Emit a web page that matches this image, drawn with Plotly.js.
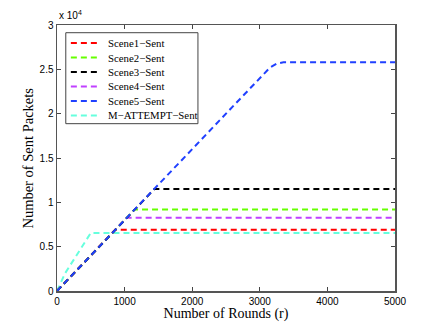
<!DOCTYPE html>
<html>
<head>
<meta charset="utf-8">
<script src="https://cdn.plot.ly/plotly-3.0.1.min.js"></script>
<style>
  html, body { margin: 0; padding: 0; background: #fff; }
  #graph { width: 436px; height: 327px; }
</style>
</head>
<body>
<div id="graph"></div>
<script>
// values (rounds, sent packets)
var names = ["Scene1-Sent", "Scene2-Sent", "Scene3-Sent", "Scene4-Sent", "Scene5-Sent", "M-ATTEMPT-Sent"];
var colors = ["#ff0000", "#66ff00", "#000000", "#c040ff", "#2040ff", "#66ffdd"];

var scene1X = [0, 860, 5000];
var scene1Y = [0, 6900, 6900];
var scene2X = [0, 1150, 5000];
var scene2Y = [0, 9200, 9200];
var scene3X = [0, 1440, 5000];
var scene3Y = [0, 11500, 11500];
var scene4X = [0, 1030, 5000];
var scene4Y = [0, 8250, 8250];
var scene5X = [0, 3150, 3250, 3350, 5000];
var scene5Y = [0, 25200, 25650, 25800, 25800];
var attemptX = [0, 120, 500, 5000];
var attemptY = [0, 2000, 6550, 6550];

var yTickVals = [0, 5000, 10000, 15000, 20000, 25000, 30000];
var yTickText = ["0", "0.5", "1", "1.5", "2", "2.5", "3"];
var xTickVals = [0, 1000, 2000, 3000, 4000, 5000];

var xs = [scene1X, scene2X, scene3X, scene4X, scene5X, attemptX];
var ys = [scene1Y, scene2Y, scene3Y, scene4Y, scene5Y, attemptY];
var dash = "6px,4px";
var serif = "Liberation Serif, Times New Roman, serif";
var sans = "Liberation Sans, Arial, sans-serif";

// draw order: attempt first so the scenes sit on top, blue above black
var order = [5, 0, 3, 1, 2, 4];
var traces = [];
order.forEach(function (i) {
    traces.push({
        x: xs[i],
        y: ys[i],
        type: "scatter",
        mode: "lines",
        name: names[i],
        line: { color: colors[i], width: 2, dash: dash },
        showlegend: false
    });
});

// legend box drawn by hand (plotly's own rows are too tall)
var shapes = [];
var annotations = [];
var leg = { x0: 0.026, x1: 0.417, y0: 0.629, y1: 0.971, top: 0.932, step: 0.0544 };
shapes.push({
    type: "rect", xref: "paper", yref: "paper",
    x0: leg.x0, x1: leg.x1, y0: leg.y0, y1: leg.y1,
    line: { color: "#444", width: 1 }, fillcolor: "#fff", layer: "above"
});
names.forEach(function (n, i) {
    var yy = leg.top - i * leg.step;
    shapes.push({
        type: "line", xref: "paper", yref: "paper",
        x0: 0.041, x1: 0.128, y0: yy, y1: yy, layer: "above",
        line: { color: colors[i], width: 2, dash: dash }
    });
    annotations.push({
        xref: "paper", yref: "paper", x: 0.145, y: yy,
        xanchor: "left", yanchor: "middle", showarrow: false,
        text: n.replace(/-/g, "\u2212"),
        font: { family: serif, size: 10.8, color: "#000" }
    });
});
annotations.push({
    xref: "paper", yref: "paper", x: 0, y: 1, xanchor: "left", yanchor: "bottom",
    yshift: 2, showarrow: false,
    text: "x 10<sup>4</sup>",
    font: { family: sans, size: 10, color: "#000" }
});
// y axis title placed as in the reference
annotations.push({
    xref: "paper", yref: "paper", x: -0.087, y: 0.5, xanchor: "center", yanchor: "middle",
    textangle: -90, showarrow: false,
    text: "Number of Sent Packets",
    font: { family: serif, size: 14.5, color: "#000" }
});

var layout = {
    width: 436,
    height: 327,
    margin: { l: 57, r: 41, t: 25, b: 36 },
    paper_bgcolor: "#fff",
    plot_bgcolor: "#fff",
    showlegend: false,
    xaxis: {
        range: [0, 5000],
        tickvals: xTickVals,
        ticks: "inside", ticklen: 4, tickcolor: "#444",
        showline: true, mirror: "ticks", linecolor: "#555", linewidth: 1.5,
        showgrid: false, zeroline: false,
        tickfont: { family: sans, size: 10, color: "#000" },
        title: { text: "Number of Rounds (r)", standoff: 2,
                 font: { family: serif, size: 14, color: "#000" } }
    },
    yaxis: {
        range: [0, 30000],
        tickvals: yTickVals,
        ticktext: yTickText,
        ticks: "inside", ticklen: 4, tickcolor: "#444",
        showline: true, mirror: "ticks", linecolor: "#555", linewidth: 1.5,
        showgrid: false, zeroline: false,
        tickfont: { family: sans, size: 10, color: "#000" }
    },
    shapes: shapes,
    annotations: annotations
};

Plotly.newPlot("graph", traces, layout, { displayModeBar: false, staticPlot: true });
</script>
</body>
</html>
